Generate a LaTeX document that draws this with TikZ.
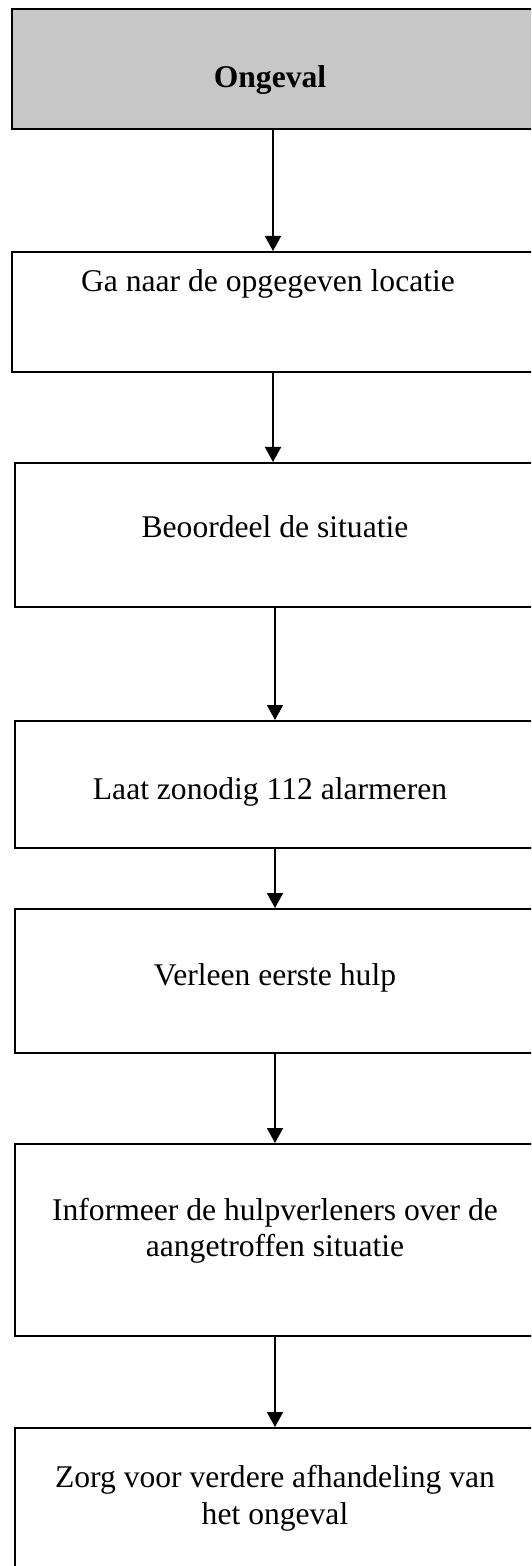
\documentclass[tikz,border=0pt]{standalone}
\usepackage{fontspec}
\setmainfont{Liberation Serif}
\usetikzlibrary{arrows.meta,fit}
\begin{document}
\begin{tikzpicture}[x=0.5pt,y=-0.5pt,
  stepbox/.style={draw=black,line width=1pt,inner sep=0pt,rectangle},
  headbox/.style={stepbox,fill=black!22},
  steptext/.style={inner sep=0pt,anchor=base,align=center,
    font=\fontsize{15.8}{18}\selectfont},
  flow/.style={draw=black,line width=0.9pt,-{Triangle[width=8pt,length=7.5pt]}}]
  \useasboundingbox (0,0) rectangle (531,1566);
  \clip (0,0) rectangle (531,1566);
  % boxes, running past the right and bottom edges of the page
  \node[headbox,fit={(12,9) (534,129)}] (b1) {};
  \node[stepbox,fit={(12,252) (534,372)}] (b2) {};
  \node[stepbox,fit={(15,463) (535,607)}] (b3) {};
  \node[stepbox,fit={(15,721) (535,848)}] (b4) {};
  \node[stepbox,fit={(15,909) (535,1053)}] (b5) {};
  \node[stepbox,fit={(15,1144) (535,1336)}] (b6) {};
  \node[stepbox,fit={(15,1428) (535,1640)}] (b7) {};
  % labels
  \node[steptext,font=\fontsize{15.8}{18}\selectfont\bfseries] (t1) at (270,88) {Ongeval};
  \node[steptext] (t2) at (268,292) {Ga naar de opgegeven locatie};
  \node[steptext] (t3) at (275,538) {Beoordeel de situatie};
  \node[steptext] (t4) at (270,799) {Laat zonodig 112 alarmeren};
  \node[steptext] (t5) at (275,985) {Verleen eerste hulp};
  \node[steptext] (t6a) at (275,1220) {Informeer de hulpverleners over de};
  \node[steptext] (t6b) at (275,1256) {aangetroffen situatie};
  \node[steptext] (t7a) at (275,1487) {Zorg voor verdere afhandeling van};
  \node[steptext] (t7b) at (275,1524) {het ongeval};
  % connectors
  \draw[flow] (b1.south) -- (b1.south |- b2.north);
  \draw[flow] (b2.south) -- (b2.south |- b3.north);
  \draw[flow] (b3.south) -- (b3.south |- b4.north);
  \draw[flow] (b4.south) -- (b4.south |- b5.north);
  \draw[flow] (b5.south) -- (b5.south |- b6.north);
  \draw[flow] (b6.south) -- (b6.south |- b7.north);
\end{tikzpicture}
\end{document}
